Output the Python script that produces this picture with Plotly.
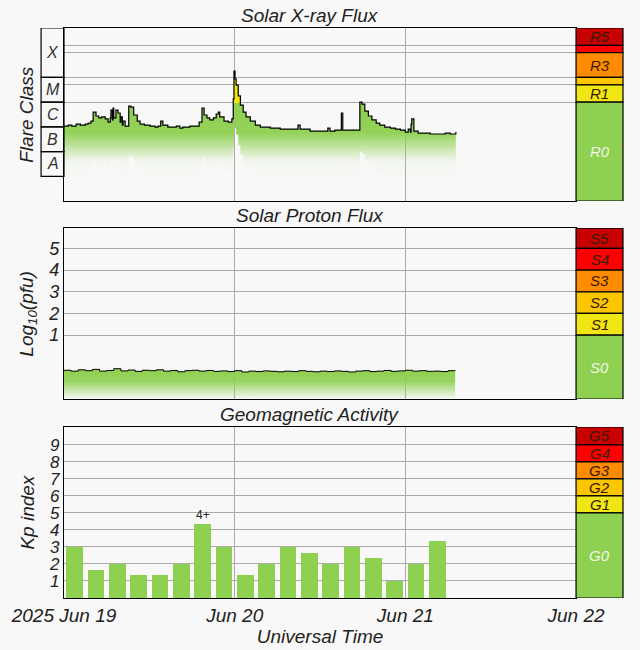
import plotly.graph_objects as go

# ---------------- data ----------------
xray_hours = [0,0.6,1.1,1.7,2.3,3.0,3.4,3.8,4.1,4.5,4.9,5.3,5.8,6.2,6.5,6.6,6.8,6.9,7.0,7.3,7.6,7.9,8.0,8.2,8.3,8.6,9.1,9.4,9.8,10.3,10.7,11.3,12.1,12.8,13.2,13.6,13.9,14.6,15.2,15.8,16.3,16.7,17.7,18.4,19.0,19.4,19.7,20.1,20.5,21.0,21.4,21.7,21.9,22.5,23.1,23.6,23.8,23.9,24.05,24.2,24.5,24.8,25.2,25.6,26.2,26.9,27.6,29.0,30.4,31.8,32.6,32.9,33.2,34.6,36.0,37.0,37.1,37.4,38.1,38.8,39.0,39.2,40.2,41.5,41.6,41.9,42.3,42.8,43.3,43.9,44.4,45.1,45.9,46.6,47.3,48.0,48.4,48.7,48.8,48.9,49.2,49.8,50.8,51.5,52.9,53.6,54.3,55.1]
xray_log = [-5.97,-5.93,-5.97,-5.89,-5.93,-5.89,-5.85,-5.77,-5.40,-5.56,-5.64,-5.60,-5.68,-5.81,-5.64,-5.32,-5.72,-5.24,-5.64,-5.32,-5.44,-5.81,-5.60,-5.93,-5.77,-5.97,-5.16,-5.20,-5.52,-5.77,-5.89,-5.93,-5.97,-6.01,-5.97,-5.77,-5.93,-6.01,-6.01,-5.97,-6.05,-6.01,-5.97,-5.97,-5.81,-5.24,-5.52,-5.64,-5.72,-5.64,-5.48,-5.40,-5.60,-5.77,-5.81,-5.68,-4.87,-3.74,-4.06,-4.31,-4.75,-5.12,-5.40,-5.60,-5.77,-5.93,-6.01,-6.05,-6.09,-6.09,-6.09,-5.93,-6.09,-6.17,-6.17,-6.17,-6.05,-6.17,-6.13,-6.13,-5.44,-6.13,-6.13,-6.13,-5.00,-5.08,-5.36,-5.56,-5.72,-5.85,-5.93,-6.01,-6.05,-6.09,-6.13,-6.21,-6.09,-6.21,-5.89,-5.68,-6.17,-6.25,-6.25,-6.29,-6.29,-6.25,-6.29,-6.21]

proton_hours = list(range(0, 56))
proton_log = [-0.62,-0.66,-0.60,-0.64,-0.58,-0.66,-0.63,-0.55,-0.65,-0.61,-0.67,-0.62,-0.64,-0.60,-0.66,-0.63,-0.69,-0.64,-0.62,-0.66,-0.63,-0.67,-0.65,-0.68,-0.64,-0.70,-0.66,-0.68,-0.65,-0.67,-0.69,-0.66,-0.68,-0.64,-0.67,-0.69,-0.66,-0.68,-0.65,-0.67,-0.70,-0.66,-0.64,-0.68,-0.66,-0.63,-0.67,-0.65,-0.62,-0.66,-0.64,-0.67,-0.66,-0.68,-0.64,-0.62]

kp_hours = [1.5,4.5,7.5,10.5,13.5,16.5,19.5,22.5,25.5,28.5,31.5,34.5,37.5,40.5,43.5,46.5,49.5,52.5]
kp_vals = [3,1.67,2,1.33,1.33,2,4.33,3,1.33,2,3,2.67,2,3,2.33,1,2,3.33]

x_ticks = [0, 24, 48, 72]
x_labels = ["2025 Jun 19", "Jun 20", "Jun 21", "Jun 22"]

r_scale = [("R5",-2.7,-2,"#c80000"),("",-3,-2.7,"#ff0000"),("R3",-4,-3,"#ff8c00"),("",-4.3,-4,"#fbc500"),("R1",-5,-4.3,"#f0e614"),("R0",-9,-5,"#8ed050")]
s_scale = [("S5",5,5.94,"#c80000"),("S4",4,5,"#ff0000"),("S3",3,4,"#ff8c00"),("S2",2,3,"#fbc500"),("S1",1,2,"#f0e614"),("S0",-1.95,1,"#8ed050")]
g_scale = [("G5",9,10.05,"#c80000"),("G4",8,9,"#ff0000"),("G3",7,8,"#ff8c00"),("G2",6,7,"#fbc500"),("G1",5,6,"#f0e614"),("G0",0,5,"#8ed050")]
flare_classes = [("X",-4,-2),("M",-5,-4),("C",-6,-5),("B",-7,-6),("A",-8,-7)]

GREEN = "#8ed050"
FONT = "Liberation Sans"
XD = 0.916

fig = go.Figure()

fig.add_trace(go.Scatter(x=xray_hours, y=[v - 2.0 for v in xray_log], mode="lines",
                         line=dict(width=0, shape="hv"), xaxis="x", yaxis="y", showlegend=False, hoverinfo="skip"))
fig.add_trace(go.Scatter(x=xray_hours, y=xray_log, mode="lines", fill="tonexty",
                         fillgradient=dict(type="vertical", start=-8.3, stop=-3.74,
                                           colorscale=[[0,"rgba(142,208,80,0)"],[0.2,"rgba(142,208,80,0.05)"],
                                                       [0.45,"rgba(142,208,80,0.95)"],[0.715,"rgba(142,208,80,1)"],
                                                       [0.72,"rgba(240,230,20,1)"],[1,"rgba(240,230,20,1)"]]),
                         line=dict(color="black", width=1.2, shape="hv"), xaxis="x", yaxis="y", showlegend=False))
fig.add_trace(go.Scatter(x=proton_hours, y=[-1.95]*len(proton_hours), mode="lines",
                         line=dict(width=0, shape="hv"), xaxis="x2", yaxis="y2", showlegend=False, hoverinfo="skip"))
fig.add_trace(go.Scatter(x=proton_hours, y=proton_log, mode="lines", fill="tonexty",
                         fillgradient=dict(type="vertical", start=-1.95, stop=-0.6,
                                           colorscale=[[0,"rgba(142,208,80,0)"],[0.6,"rgba(142,208,80,0.9)"],[1,"rgba(142,208,80,1)"]]),
                         line=dict(color="black", width=1, shape="hv"), xaxis="x2", yaxis="y2", showlegend=False))
fig.add_trace(go.Bar(x=kp_hours, y=kp_vals, width=2.35, marker=dict(color=GREEN, line=dict(width=0)),
                     xaxis="x3", yaxis="y3", showlegend=False))

shapes, annos = [], []
def scale(items, yref):
    for lab, y0, y1, col in items:
        shapes.append(dict(type="rect", xref="paper", yref=yref, x0=XD, x1=1, y0=y0, y1=y1,
                           fillcolor=col, line=dict(color="black", width=1.2), layer="above"))
        if lab:
            light = lab.endswith("0")
            annos.append(dict(xref="paper", yref=yref, x=(XD+1)/2, y=(y0+y1)/2, text=lab, showarrow=False,
                              xanchor="center", yanchor="middle",
                              font=dict(family=FONT, size=15, style="italic",
                                        color="#eef5e6" if light else "#3a1a00")))
scale(r_scale, "y"); scale(s_scale, "y2"); scale(g_scale, "y3")

for lab, y0, y1 in flare_classes:
    shapes.append(dict(type="rect", xref="paper", yref="y", x0=-0.041, x1=0, y0=y0, y1=y1,
                       line=dict(color="black", width=1.2), fillcolor="rgba(0,0,0,0)"))
    annos.append(dict(xref="paper", yref="y", x=-0.0205, y=(y0+y1)/2, text=lab, showarrow=False,
                      xanchor="center", yanchor="middle",
                      font=dict(family=FONT, size=16, style="italic", color="#333")))

for txt, ypos in [("Solar X-ray Flux", 1.0), ("Solar Proton Flux", 0.649), ("Geomagnetic Activity", 0.3)]:
    annos.append(dict(xref="paper", yref="paper", x=0.44, y=ypos, xanchor="center", yanchor="bottom", yshift=0, text=txt,
                      showarrow=False, font=dict(family=FONT, size=19, style="italic", color="#222")))
for txt, ypos in [("Flare Class", 0.848), ("Log<sub>10</sub>(pfu)", 0.499), ("Kp index", 0.15)]:
    annos.append(dict(xref="paper", yref="paper", x=-0.066, y=ypos, xanchor="center", yanchor="middle",
                      text=txt, textangle=-90, showarrow=False,
                      font=dict(family=FONT, size=19, style="italic", color="#222")))
annos.append(dict(xref="x3", yref="y3", x=kp_hours[6], y=kp_vals[6], xanchor="center", yanchor="bottom", text="4+",
                  showarrow=False, font=dict(family=FONT, size=12, color="#222")))

axbase = dict(range=[0, 72], domain=[0, XD], tickvals=x_ticks, showgrid=True, gridcolor="#aaaaaa",
              showline=True, mirror=True, linecolor="black", linewidth=1.2, zeroline=False, ticks="")
ybase = dict(showline=True, mirror=True, linecolor="black", linewidth=1.2, zeroline=False, gridcolor="#aaaaaa",
             ticks="", tickfont=dict(family=FONT, size=18, style="italic", color="#222"))

fig.update_layout(
    width=640, height=650, margin=dict(l=64, r=17, t=28, b=52, autoexpand=False),
    paper_bgcolor="#f8f8f8", plot_bgcolor="#f8f8f8", bargap=0,
    xaxis=dict(axbase, anchor="y", showticklabels=False),
    xaxis2=dict(axbase, anchor="y2", showticklabels=False),
    xaxis3=dict(axbase, anchor="y3", ticktext=x_labels,
                tickfont=dict(family=FONT, size=19, style="italic", color="#222"),
                title=dict(text="Universal Time", standoff=2, font=dict(family=FONT, size=19, style="italic", color="#222"))),
    yaxis=dict(ybase, domain=[0.6965, 1], range=[-9, -2], tickvals=[-5, -4.3, -4, -3, -2.7], showticklabels=False, anchor="x"),
    yaxis2=dict(ybase, domain=[0.349, 0.649], range=[-1.95, 5.94], tickvals=[1, 2, 3, 4, 5], anchor="x2"),
    yaxis3=dict(ybase, domain=[0, 0.3], range=[0, 10.05], tickvals=list(range(1, 10)), anchor="x3",
                tickfont=dict(family=FONT, size=17, style="italic", color="#222")),
    shapes=shapes, annotations=annos,
)
fig.write_html("out.html", config={"displayModeBar": False},
               post_script="document.body.style.margin='0';document.body.style.background='#f8f8f8';")
